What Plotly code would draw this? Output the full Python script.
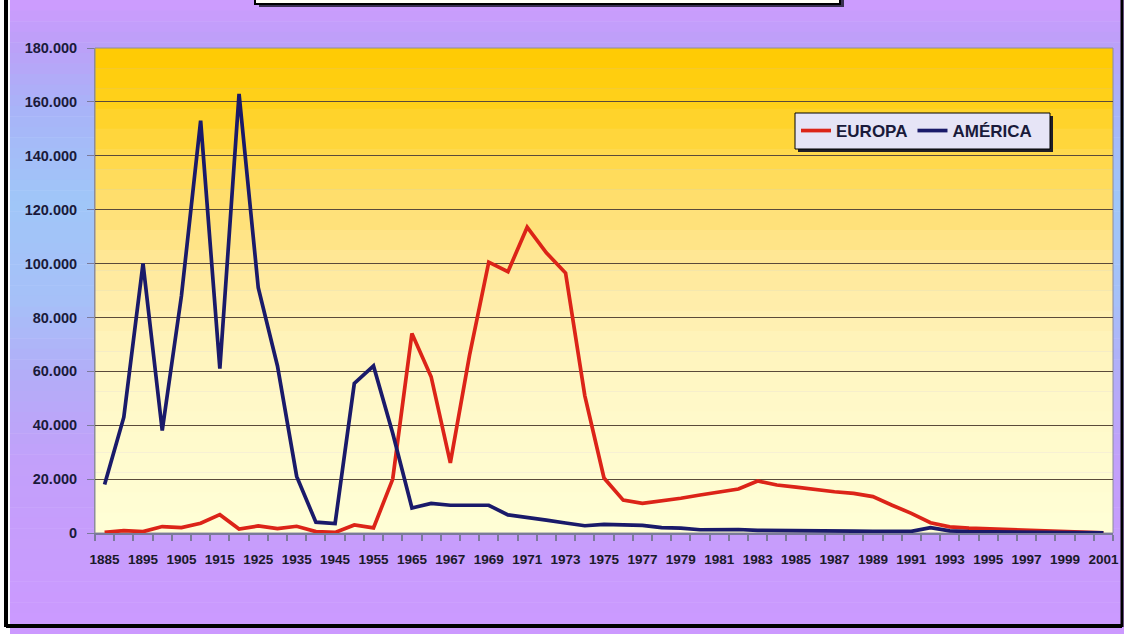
import plotly.graph_objects as go

# ---------------- data ----------------
years = [1885, 1890, 1895, 1900, 1905, 1910, 1915, 1920, 1925, 1930, 1935, 1940,
         1945, 1950, 1955, 1960, 1965, 1966, 1967, 1968, 1969, 1970, 1971, 1972,
         1973, 1974, 1975, 1976, 1977, 1978, 1979, 1980, 1981, 1982, 1983, 1984,
         1985, 1986, 1987, 1988, 1989, 1990, 1991, 1992, 1993, 1994, 1995, 1996,
         1997, 1998, 1999, 2000, 2001]

europa = [200, 900, 500, 2400, 2000, 3600, 6800, 1500, 2600, 1600, 2500, 500,
          200, 3000, 1900, 20000, 74000, 58000, 26000, 66000, 100500, 97000, 113500, 104000,
          96500, 51000, 20400, 12200, 11000, 11800, 12900, 14100, 15100, 16300, 19300, 17800,
          17000, 16000, 15300, 14700, 13500, 10300, 7300, 3800, 2300, 1800, 1600, 1300,
          1000, 800, 700, 600, 100]

america = [18000, 43000, 100000, 38000, 88000, 153000, 61000, 163000, 91000, 62000, 21000, 4000,
           3500, 55500, 62000, 37000, 9300, 11000, 10300, 10300, 10300, 6700, 5900, 4800,
           3700, 2700, 3200, 3000, 2800, 2000, 1800, 1200, 1300, 1300, 1000, 1000,
           900, 800, 700, 700, 600, 500, 600, 2000, 800, 500, 400, 400,
           300, 200, 200, 200, 100]

y_ticks = [0, 20000, 40000, 60000, 80000, 100000, 120000, 140000, 160000, 180000]
series_names = ["EUROPA", "AMÉRICA"]

# ---------------- geometry helpers ----------------
W, H = 1124, 634
L, R, T, B = 95, 1113, 48, 533
PW, PH = R - L, B - T


def px(x):
    return (x - L) / PW


def py(y):
    return (B - y) / PH


def hex2rgb(h):
    h = h.lstrip("#")
    return tuple(int(h[i:i + 2], 16) for i in (0, 2, 4))


def interp(stops, v):
    for (a, ca), (b, cb) in zip(stops, stops[1:]):
        if a <= v <= b:
            t = 0 if b == a else (v - a) / (b - a)
            c1, c2 = hex2rgb(ca), hex2rgb(cb)
            return "rgb(%d,%d,%d)" % tuple(round(c1[k] + (c2[k] - c1[k]) * t) for k in range(3))
    return stops[-1][1]


shapes = []

# outer background (lavender / light-blue gradient)
outer_stops = [(0, "#CE9CFF"), (45, "#BCA0F8"), (110, "#A8B4F8"), (200, "#A0C6F8"),
               (300, "#A6C0F8"), (380, "#B4ACF8"), (460, "#C2A0FA"), (634, "#CC99FF")]
nb = 60
for i in range(nb):
    y0 = i * H / nb - (3 if i == 0 else 0)
    y1 = (i + 1) * H / nb + 0.5
    shapes.append(dict(type="rect", xref="paper", yref="paper", layer="below",
                       x0=px(10), x1=px(W + 5), y0=py(y1), y1=py(y0),
                       fillcolor=interp(outer_stops, (y0 + y1) / 2), line=dict(width=0)))

# plot area gradient (gold -> pale yellow)
plot_stops = [(48, "#FFCA00"), (100, "#FFD01A"), (150, "#FFD846"), (200, "#FFDE6C"),
              (250, "#FFE58E"), (300, "#FFEDAA"), (350, "#FFF4BC"), (400, "#FFF8C8"),
              (533, "#FFFFD6")]
nb = 24
for i in range(nb):
    y0 = T + i * PH / nb
    y1 = T + (i + 1) * PH / nb + 0.3
    shapes.append(dict(type="rect", xref="paper", yref="paper", layer="below",
                       x0=0, x1=1, y0=py(min(y1, B)), y1=py(y0),
                       fillcolor=interp(plot_stops, (y0 + y1) / 2), line=dict(width=0)))

# plot border
shapes.append(dict(type="rect", xref="paper", yref="paper", layer="below",
                   x0=0, x1=1, y0=0, y1=1, line=dict(color="#8C8C9C", width=1)))

# outer frame lines
shapes.append(dict(type="line", xref="paper", yref="paper", layer="below",
                   x0=px(6), x1=px(6), y0=py(-5), y1=py(627), line=dict(color="black", width=4)))
shapes.append(dict(type="line", xref="paper", yref="paper", layer="below",
                   x0=px(6), x1=px(1122), y0=py(626), y1=py(626), line=dict(color="black", width=4)))
shapes.append(dict(type="line", xref="paper", yref="paper", layer="below",
                   x0=px(1122), x1=px(1122), y0=py(-5), y1=py(627), line=dict(color="black", width=3)))

# title box (cut off at top) with shadow
shapes.append(dict(type="rect", xref="paper", yref="paper", layer="below",
                   x0=px(259), x1=px(844), y0=py(7), y1=py(-30),
                   fillcolor="#3A3050", line=dict(width=0)))
shapes.append(dict(type="rect", xref="paper", yref="paper", layer="below",
                   x0=px(255), x1=px(840), y0=py(4), y1=py(-30),
                   fillcolor="#FFFFF6", line=dict(color="black", width=2)))

# legend box with shadow
shapes.append(dict(type="rect", xref="paper", yref="paper", layer="below",
                   x0=px(798), x1=px(1053), y0=py(152), y1=py(116),
                   fillcolor="#1E1E28", line=dict(width=0)))
shapes.append(dict(type="rect", xref="paper", yref="paper", layer="below",
                   x0=px(795), x1=px(1050), y0=py(149), y1=py(113),
                   fillcolor="#E6E4F6", line=dict(color="black", width=1)))

# ---------------- traces ----------------
fig = go.Figure()
fig.add_trace(go.Scatter(x=[str(y) for y in years], y=europa, mode="lines", name=series_names[0],
                         line=dict(color="#DC2418", width=3.7)))
fig.add_trace(go.Scatter(x=[str(y) for y in years], y=america, mode="lines", name=series_names[1],
                         line=dict(color="#1A1A6A", width=3.7)))

tick_text = [str(y) if i % 2 == 0 else "" for i, y in enumerate(years)]

font_fam = "Liberation Sans, Arial, sans-serif"

fig.update_layout(
    width=W, height=H,
    margin=dict(l=L, r=W - R, t=T, b=H - B, autoexpand=False),
    paper_bgcolor="white",
    plot_bgcolor="rgba(0,0,0,0)",
    separators=",.",
    shapes=shapes,
    showlegend=True,
    legend=dict(orientation="h", x=px(796), y=py(131), xanchor="left", yanchor="middle",
                bgcolor="rgba(0,0,0,0)", borderwidth=0,
                font=dict(family=font_fam, size=17, color="#1A1A3A", weight="bold"),
                itemwidth=30, tracegroupgap=0),
    xaxis=dict(type="category", categoryorder="array", categoryarray=[str(y) for y in years],
               range=[-0.5, len(years) - 0.5], automargin=False,
               tickmode="array", tickvals=[str(y) for y in years], ticktext=tick_text,
               tickson="boundaries", ticks="outside", ticklen=6, tickcolor="#7A7A9A",
               tickwidth=1.5, tickangle=0, ticklabelstandoff=13,
               showline=True, linecolor="#7A7A9A", linewidth=1.5, showgrid=False,
               tickfont=dict(family=font_fam, size=13.5, color="#1A1A2A", weight="bold")),
    yaxis=dict(range=[0, 180000], tickmode="array", tickvals=y_ticks, tickformat=",d",
               automargin=False,
               ticks="outside", ticklen=7, tickcolor="#7A7A9A", ticklabelstandoff=7,
               showgrid=True, gridcolor="#5A4A3A", gridwidth=1.2, zeroline=False,
               showline=True, linecolor="#8C8C9C", linewidth=1,
               tickfont=dict(family=font_fam, size=14.5, color="#1A1A3A", weight="bold")),
)

fig.write_html("out.html", config={"displayModeBar": False},
               post_script="document.body.style.margin='0';document.body.style.overflow='hidden';")
